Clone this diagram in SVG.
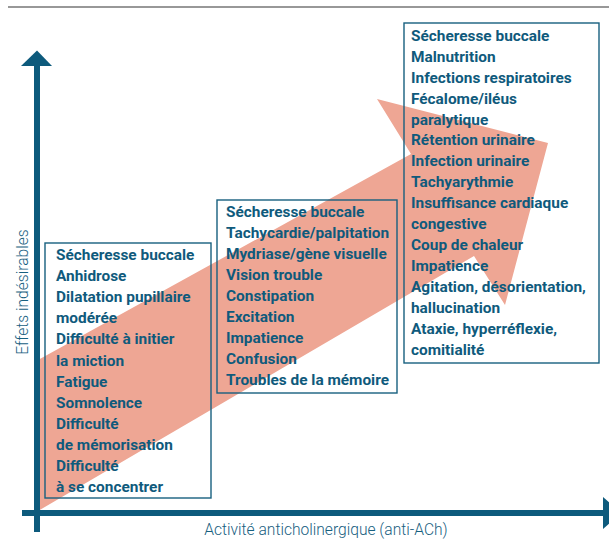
<svg xmlns="http://www.w3.org/2000/svg" width="609" height="540" viewBox="0 0 609 540">
<style>
.box{fill:none;stroke:#17607f;stroke-width:1.4}
.t{font-family:Roboto,"Liberation Sans",sans-serif;font-weight:bold;font-size:15.4px;fill:#0f5a7c}
.lab{font-family:Roboto,"Liberation Sans",sans-serif;font-weight:300;font-size:15.6px;fill:#17607f}
.axis{fill:#0d5a7c}
</style>
<rect width="609" height="540" fill="#fff"/>
<line x1="8" y1="7" x2="609" y2="7" stroke="#333" stroke-width="1.2"/>
<g id="connectors">
<polygon id="trend-arrow" fill="#eea694" points="38,360 411,154 377,99 548,143 505,305 474,256 38,511"/>
<g id="axes" class="axis">
<rect x="34" y="64" width="6" height="468"/>
<polygon points="21,66 37,50.5 52,66"/>
<rect x="22" y="510" width="583" height="6"/>
<polygon points="603,497 621,513 603,529"/>
</g>
</g>
<text class="lab" transform="translate(28,292) rotate(-90)" text-anchor="middle">Effets indésirables</text>
<text class="lab" x="326" y="535" text-anchor="middle">Activité anticholinergique (anti-ACh)</text>
<g id="box1">
<rect class="box" x="45" y="243" width="166" height="255"/>
<text class="t" x="56" y="260">Sécheresse buccale</text>
<text class="t" x="56" y="281.1">Anhidrose</text>
<text class="t" x="56" y="302.2">Dilatation pupillaire</text>
<text class="t" x="56" y="323.3">modérée</text>
<text class="t" x="56" y="344.4">Difficulté à initier</text>
<text class="t" x="56" y="365.5">la miction</text>
<text class="t" x="56" y="386.6">Fatigue</text>
<text class="t" x="56" y="407.7">Somnolence</text>
<text class="t" x="56" y="428.8">Difficulté</text>
<text class="t" x="56" y="449.9">de mémorisation</text>
<text class="t" x="56" y="471">Difficulté</text>
<text class="t" x="56" y="492.1">à se concentrer</text>
</g>
<g id="box2">
<rect class="box" x="217" y="200" width="180" height="193"/>
<text class="t" x="226" y="216.7">Sécheresse buccale</text>
<text class="t" x="226" y="237.7">Tachycardie/palpitation</text>
<text class="t" x="226" y="258.7">Mydriase/gène visuelle</text>
<text class="t" x="226" y="279.7">Vision trouble</text>
<text class="t" x="226" y="300.7">Constipation</text>
<text class="t" x="226" y="321.7">Excitation</text>
<text class="t" x="226" y="342.7">Impatience</text>
<text class="t" x="226" y="363.7">Confusion</text>
<text class="t" x="226" y="384.7">Troubles de la mémoire</text>
</g>
<g id="box3">
<rect class="box" x="404" y="23" width="195" height="340"/>
<text class="t" x="411" y="40.7">Sécheresse buccale</text>
<text class="t" x="411" y="61.65">Malnutrition</text>
<text class="t" x="411" y="82.6">Infections respiratoires</text>
<text class="t" x="411" y="103.55">Fécalome/iléus</text>
<text class="t" x="411" y="124.5">paralytique</text>
<text class="t" x="411" y="145.45">Rétention urinaire</text>
<text class="t" x="411" y="166.4">Infection urinaire</text>
<text class="t" x="411" y="187.35">Tachyarythmie</text>
<text class="t" x="411" y="208.3">Insuffisance cardiaque</text>
<text class="t" x="411" y="229.25">congestive</text>
<text class="t" x="411" y="250.2">Coup de chaleur</text>
<text class="t" x="411" y="271.15">Impatience</text>
<text class="t" x="411" y="292.1">Agitation, désorientation,</text>
<text class="t" x="411" y="313.05">hallucination</text>
<text class="t" x="411" y="334">Ataxie, hyperréflexie,</text>
<text class="t" x="411" y="354.95">comitialité</text>
</g>
</svg>
